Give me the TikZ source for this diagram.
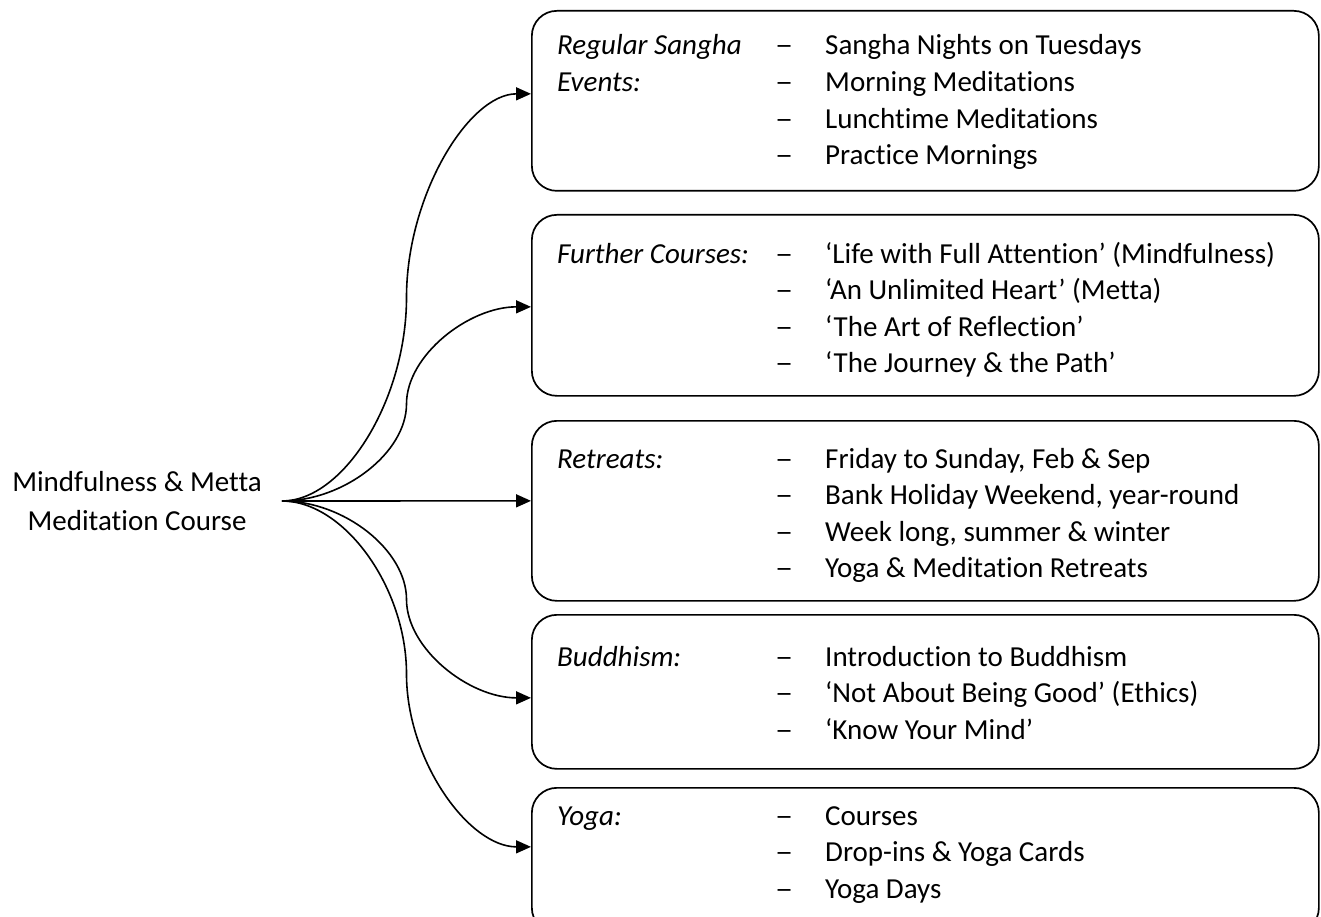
\documentclass[tikz,border=0pt]{standalone}
\usepackage{fontspec}
\setmainfont{Carlito}[Ligatures=NoCommon]
\usetikzlibrary{arrows.meta,calc}
\begin{document}
\begin{tikzpicture}[x=1pt,y=-1pt,
  box/.style={draw,line width=1.7pt,rounded corners=25pt,minimum width=787pt,inner sep=0pt,anchor=north west},
  conn/.style={line width=1.6pt,-{Triangle[length=15pt,width=13pt]}},
  lab/.style={anchor=base west,inner sep=0pt,font=\fontsize{29}{36}\selectfont\itshape},
  itm/.style={anchor=base west,inner sep=0pt,font=\fontsize{29}{36}\selectfont},
]
\useasboundingbox (0,0) rectangle (1321,917);

\node[align=center,inner xsep=20pt,anchor=east,font=\fontsize{29}{39}\selectfont] (src) at (282,501) {Mindfulness \& Metta\\Meditation Course};

\node[box,minimum height=180pt] (b1) at (531,10) {};
\node[box,minimum height=181pt] (b2) at (531,214) {};
\node[box,minimum height=180pt] (b3) at (531,420) {};
\node[box,minimum height=154pt] (b4) at (531,614) {};
\node[box,minimum height=145pt] (b5) at (531,787) {};

% labels
\node[lab] (l1a) at (557,55) {Regular Sangha};
\node[lab] (l1b) at (557,91.6) {Events:};
\node[lab] (l2) at (557,263) {Further Courses:};
\node[lab] (l3) at (557,468) {Retreats:};
\node[lab] (l4) at (557,666) {Buddhism:};
\node[lab] (l5) at (557,825) {Yoga:};

\newcommand\dashmark{\scalebox{1.25}[1]{–}}
\foreach \t [count=\i from 0] in {Sangha Nights on Tuesdays, Morning Meditations, Lunchtime Meditations, Practice Mornings}{
  \node[itm] (d1\i) at (775,55+36.6*\i) {\dashmark};
  \node[itm] (i1\i) at (825,55+36.6*\i) {\t};
}
\foreach \t [count=\i from 0] in {‘Life with Full Attention’ (Mindfulness), ‘An Unlimited Heart’ (Metta), ‘The Art of Reflection’, ‘The Journey \& the Path’}{
  \node[itm] (d2\i) at (775,263+36.6*\i) {\dashmark};
  \node[itm] (i2\i) at (825,263+36.6*\i) {\t};
}
\foreach \t [count=\i from 0] in {{Friday to Sunday, Feb \& Sep}, {Bank Holiday Weekend, year-round}, {Week long, summer \& winter}, Yoga \& Meditation Retreats}{
  \node[itm] (d3\i) at (775,468+36.6*\i) {\dashmark};
  \node[itm] (i3\i) at (825,468+36.6*\i) {\t};
}
\foreach \t [count=\i from 0] in {Introduction to Buddhism, ‘Not About Being Good’ (Ethics), ‘Know Your Mind’}{
  \node[itm] (d4\i) at (775,666+36.6*\i) {\dashmark};
  \node[itm] (i4\i) at (825,666+36.6*\i) {\t};
}
\foreach \t [count=\i from 0] in {Courses, Drop-ins \& Yoga Cards, Yoga Days}{
  \node[itm] (d5\i) at (775,825+36.6*\i) {\dashmark};
  \node[itm] (i5\i) at (825,825+36.6*\i) {\t};
}

\foreach \b/\dy in {b1/-7,b2/1.5,b3/-10,b4/6,b5/-13.5}{
  \draw[conn] let \p1=(src.east), \p2=($(\b.west)+(0,\dy)$) in
    (\p1) .. controls ({0.75*\x1+0.25*\x2},\y1) and ({0.5*\x1+0.5*\x2},{0.75*\y1+0.25*\y2}) ..
    ({0.5*\x1+0.5*\x2},{0.5*\y1+0.5*\y2}) .. controls ({0.5*\x1+0.5*\x2},{0.25*\y1+0.75*\y2}) and ({0.25*\x1+0.75*\x2},\y2) .. (\p2);
}
\end{tikzpicture}
\end{document}
